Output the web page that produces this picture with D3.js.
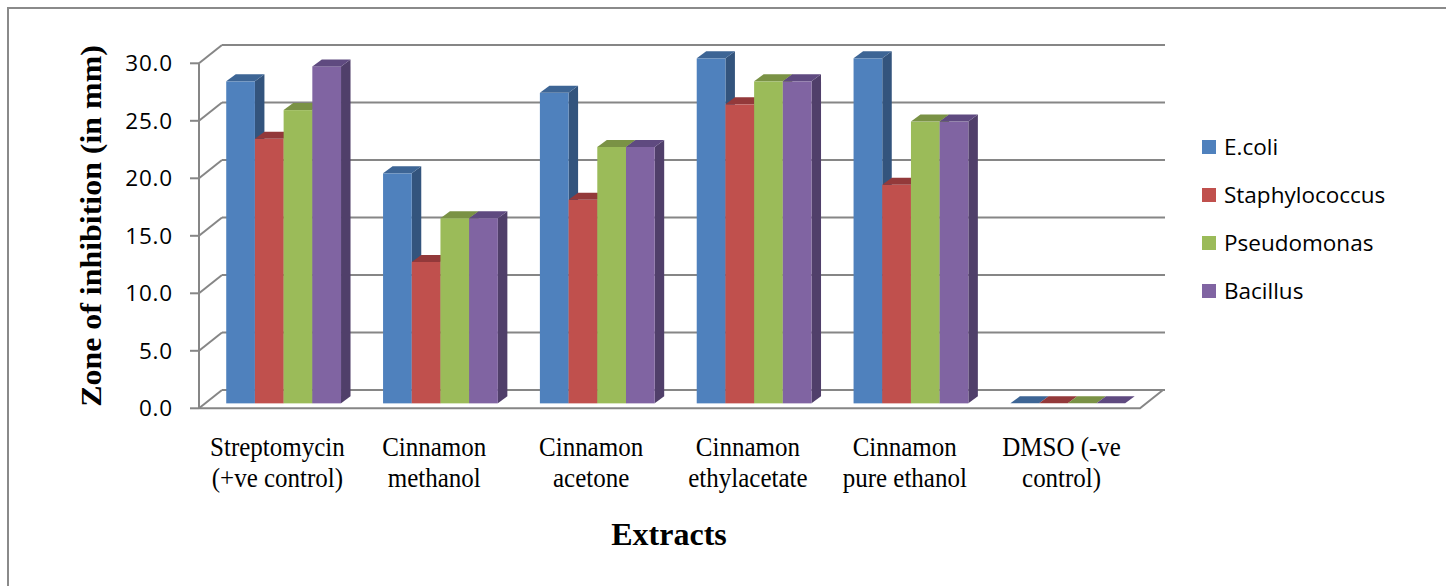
<!DOCTYPE html>
<html>
<head>
<meta charset="utf-8">
<script src="https://cdn.jsdelivr.net/npm/d3@7"></script>
<style>
  html, body { margin: 0; padding: 0; background: #fff; }
  svg { display: block; }
</style>
</head>
<body>
<svg id="chart" width="1446" height="586"></svg>
<script>
// Zone of inhibition (mm) per extract, one array per organism
const categories = [
  ["Streptomycin", "(+ve control)"],
  ["Cinnamon", "methanol"],
  ["Cinnamon", "acetone"],
  ["Cinnamon", "ethylacetate"],
  ["Cinnamon", "pure ethanol"],
  ["DMSO (-ve", "control)"]
];
const seriesNames = ["E.coli", "Staphylococcus", "Pseudomonas", "Bacillus"];
const ecoli          = [28.0, 20.0, 27.0, 30.0, 30.0, 0];
const staphylococcus = [23.0, 12.3, 17.7, 26.0, 19.0, 0];
const pseudomonas    = [25.5, 16.1, 22.3, 28.0, 24.5, 0];
const bacillus       = [29.3, 16.1, 22.3, 28.0, 24.5, 0];
const yTicks = [0, 5, 10, 15, 20, 25, 30];
const yTickLabels = ["0.0", "5.0", "10.0", "15.0", "20.0", "25.0", "30.0"];

const seriesValues = [ecoli, staphylococcus, pseudomonas, bacillus];

// face colours: front, side, top
const palette = [
  { front: "#4F81BD", side: "#33547D", top: "#3D6595" },
  { front: "#C0504D", side: "#843533", top: "#93393A" },
  { front: "#9BBB59", side: "#6D853C", top: "#7A9245" },
  { front: "#8064A2", side: "#503F6A", top: "#5F4A80" }
];

const svg = d3.select("#chart");

// outer chart border
svg.append("rect")
  .attr("x", 8).attr("y", 8).attr("width", 1460).attr("height", 600)
  .attr("fill", "none").attr("stroke", "#8a8a8a").attr("stroke-width", 2);

// 3-D box geometry (front plane of the floor and its depth shift)
const frontLeft = 199, frontRight = 1140;
const depthDX = 23, depthDY = 18.3;
const barZ = 0.27;            // fraction of depth where bar fronts sit
const barDX = 9.5, barDY = 7; // visible depth of each column

const y = d3.scaleLinear().domain([0, 30]).range([408.3, 63.3]);

const x = d3.scaleBand()
  .domain(d3.range(categories.length))
  .range([frontLeft, frontRight])
  .paddingInner(0.268)
  .paddingOuter(0.134);

const xs = d3.scaleBand()
  .domain(d3.range(seriesNames.length))
  .range([0, x.bandwidth()]);

const gridColor = "#868686";
const grid = svg.append("g").attr("fill", "none").attr("stroke", gridColor).attr("stroke-width", 2);

// back wall gridlines and left wall diagonals
yTicks.forEach(t => {
  const yf = y(t);
  grid.append("line")
    .attr("x1", frontLeft + depthDX).attr("x2", frontRight + depthDX + 2)
    .attr("y1", yf - depthDY).attr("y2", yf - depthDY);
  grid.append("line")
    .attr("x1", frontLeft).attr("x2", frontLeft + depthDX)
    .attr("y1", yf).attr("y2", yf - depthDY);
  grid.append("line")
    .attr("x1", frontLeft - 9).attr("x2", frontLeft)
    .attr("y1", yf).attr("y2", yf);
});

// vertical value axis on the front plane
grid.append("line")
  .attr("x1", frontLeft).attr("x2", frontLeft)
  .attr("y1", y(30)).attr("y2", y(0));

// floor front and right edges
grid.append("path")
  .attr("d", `M${frontLeft},${y(0)}H${frontRight}l${depthDX},${-depthDY}`);

// columns, drawn left to right so later fronts hide earlier sides
const bars = svg.append("g");
const y0 = y(0) - barZ * depthDY;
categories.forEach((c, ci) => {
  seriesValues.forEach((vals, si) => {
    const v = vals[ci];
    const left = x(ci) + xs(si) + barZ * depthDX;
    const w = xs.bandwidth();
    const top = y(v) - barZ * depthDY;
    const col = palette[si];
    const g = bars.append("g");
    if (v > 0) {
      // side face
      g.append("path")
        .attr("d", `M${left + w},${y0}L${left + w + barDX},${y0 - barDY}L${left + w + barDX},${top - barDY}L${left + w},${top}Z`)
        .attr("fill", col.side);
      // front face
      g.append("rect")
        .attr("x", left).attr("y", top).attr("width", w).attr("height", y0 - top)
        .attr("fill", col.front);
    }
    // top face
    g.append("path")
      .attr("d", `M${left},${top}L${left + barDX},${top - barDY}L${left + w + barDX},${top - barDY}L${left + w},${top}Z`)
      .attr("fill", col.top);
  });
});

// value tick labels
const sans = "'Open Sans', 'Noto Sans', sans-serif";
const serif = "'Liberation Serif', 'Times New Roman', serif";
svg.append("g").selectAll("text")
  .data(yTicks)
  .join("text")
  .attr("x", 173)
  .attr("y", d => y(d))
  .attr("dy", "0.36em")
  .attr("text-anchor", "end")
  .attr("font-family", sans)
  .attr("font-size", 22.5)
  .attr("letter-spacing", 0.8)
  .attr("fill", "#000")
  .text((d, i) => yTickLabels[i]);

// category labels, slightly condensed serif
const catG = svg.append("g")
  .attr("font-family", serif).attr("font-size", 25).attr("fill", "#000")
  .attr("text-anchor", "middle");
categories.forEach((lines, ci) => {
  const cx = x(ci) + x.bandwidth() / 2;
  const t = catG.append("text")
    .attr("transform", `translate(${cx},456) scale(1,1.08)`);
  lines.forEach((ln, li) => {
    t.append("tspan").attr("x", 0).attr("y", li * 29).text(ln);
  });
});

// axis titles
svg.append("text")
  .attr("x", 669).attr("y", 545)
  .attr("text-anchor", "middle")
  .attr("font-family", serif).attr("font-weight", "bold").attr("font-size", 32)
  .text("Extracts");

svg.append("text")
  .attr("transform", "translate(101,226) rotate(-90) scale(1.12,1)")
  .attr("text-anchor", "middle")
  .attr("font-family", serif).attr("font-weight", "bold").attr("font-size", 28.5)
  .text("Zone of inhibition (in mm)");

// legend
const legend = svg.append("g").attr("font-family", sans).attr("font-size", 22.5);
seriesNames.forEach((name, si) => {
  const ly = 147 + si * 48;
  legend.append("rect")
    .attr("x", 1202).attr("y", ly - 7).attr("width", 14).attr("height", 14)
    .attr("fill", palette[si].front);
  legend.append("text")
    .attr("x", 1224).attr("y", ly).attr("dy", "0.36em")
    .text(name);
});
</script>
</body>
</html>
